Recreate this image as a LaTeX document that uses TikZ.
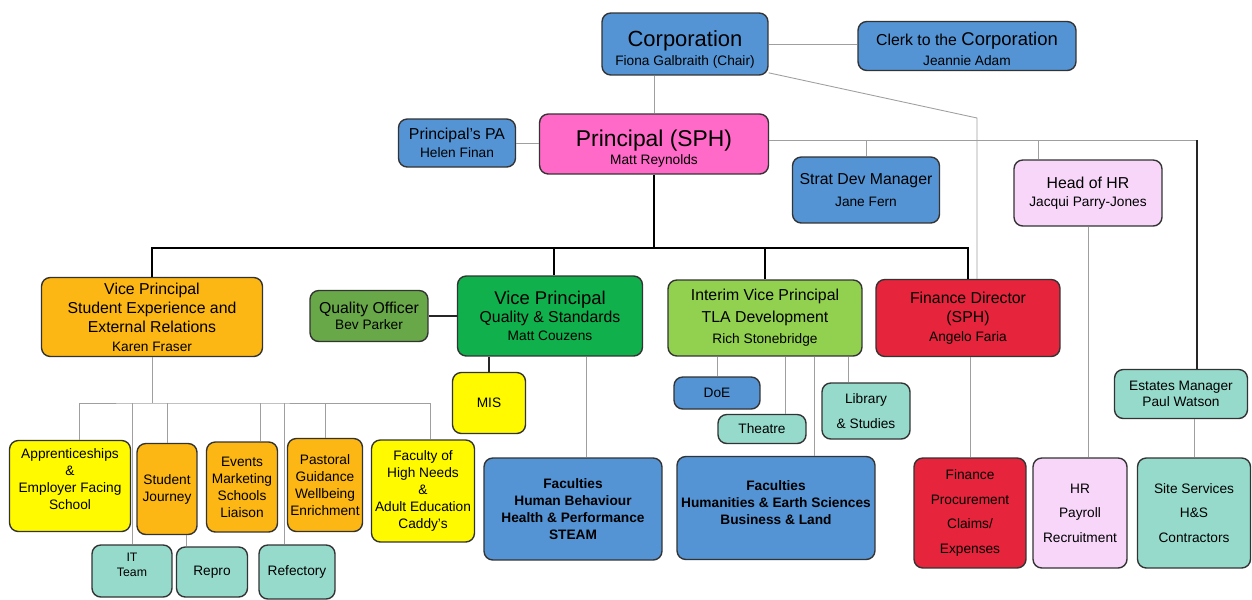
\documentclass[tikz,border=0pt]{standalone}
\usepackage{fontspec}
\setmainfont{Liberation Sans}

\definecolor{cblue}{RGB}{84,148,212}
\definecolor{cpink}{RGB}{255,105,200}
\definecolor{clav}{RGB}{247,214,250}
\definecolor{corange}{RGB}{252,183,20}
\definecolor{cyellow}{RGB}{255,250,0}
\definecolor{cteal}{RGB}{150,218,204}
\definecolor{cgreen}{RGB}{16,176,76}
\definecolor{colive}{RGB}{104,168,72}
\definecolor{clime}{RGB}{146,208,80}
\definecolor{cred}{RGB}{230,36,60}

\newcommand{\ttl}{\fontsize{12.5}{15}\selectfont}
\newcommand{\hdr}{\fontsize{9}{10.8}\selectfont}
\newcommand{\nm}{\fontsize{7.8}{9.4}\selectfont}
\newcommand{\lst}{\fontsize{7.8}{9.7}\selectfont}
\newcommand{\wide}{\fontsize{7.8}{14}\selectfont}

\begin{document}
\begin{tikzpicture}[x=0.02cm, y=-0.02cm, %org chart
    box/.style={draw=black!80, line width=0.8pt, rounded corners=5pt, align=center, inner sep=1pt},
    conn/.style={gray!75, line width=0.5pt},
    bus/.style={black, line width=1.4pt},
    link/.style={black!85, line width=0.9pt}]
            \useasboundingbox (0,0) rectangle (1252,599);

            \node[box, fill=cblue, minimum width=3.32cm, minimum height=1.24cm, font=\nm] (corp) at (685,44) {{\ttl Corporation}\\[1.5pt]Fiona Galbraith (Chair)\\[-14pt]\mbox{}};
            \node[box, fill=cblue, minimum width=4.36cm, minimum height=0.98cm, font=\nm] (clerk) at (967,46) {{\fontsize{9}{11}\selectfont Clerk to the \fontsize{10.5}{12}\selectfont Corporation}\\[2pt]Jeannie Adam\\[-12.8pt]\mbox{}};
            \node[box, fill=cblue, minimum width=2.34cm, minimum height=0.96cm, font=\nm] (pa) at (457,143) {{\hdr Principal's PA}\\[1pt]Helen Finan};
            \node[box, fill=cpink, minimum width=4.58cm, minimum height=1.2cm, font=\nm] (prin) at (654,144) {{\fontsize{13}{15}\selectfont Principal (SPH)}\\[1pt]Matt Reynolds\\[-12.8pt]\mbox{}};
            \node[box, fill=cblue, minimum width=2.94cm, minimum height=1.32cm, font=\nm] (sdm) at (866,190) {{\hdr Strat Dev Manager}\\[3pt]Jane Fern};
            \node[box, fill=clav, minimum width=2.96cm, minimum height=1.32cm, font=\nm] (hhr) at (1088,193) {{\hdr Head of HR}\\[1pt]Jacqui Parry-Jones};

            \node[box, fill=corange, minimum width=4.42cm, minimum height=1.58cm, font=\hdr] (vpse) at (152,317) {Vice Principal\\Student Experience and\\External Relations\\{\nm Karen Fraser}};
            \node[box, fill=colive, minimum width=2.36cm, minimum height=1.02cm, font=\nm] (qo) at (369,316) {{\hdr Quality Officer}\\Bev Parker};
            \node[box, fill=cgreen, minimum width=3.7cm, minimum height=1.6cm, font=\nm] (vpqs) at (550,316) {{\fontsize{10.5}{12.6}\selectfont Vice Principal}\\[1pt]{\hdr Quality \& Standards}\\[1pt]Matt Couzens};
            \node[box, fill=clime, minimum width=3.88cm, minimum height=1.52cm, font=\hdr] (ivp) at (765,318) {Interim Vice Principal\\[1.5pt]TLA Development\\[1.5pt]{\nm Rich Stonebridge}};
            \node[box, fill=cred, minimum width=3.68cm, minimum height=1.54cm, font=\hdr] (fd) at (968,318) {Finance Director\\(SPH)\\{\nm Angelo Faria}};
            \node[box, fill=cteal, minimum width=2.66cm, minimum height=0.98cm, font=\nm] (est) at (1181,394) {Estates Manager\\Paul Watson};

            \node[box, fill=cyellow, minimum width=1.46cm, minimum height=1.22cm, font=\nm] (mis) at (489,403) {MIS};
            \node[box, fill=cblue, minimum width=1.72cm, minimum height=0.64cm, font=\nm] (doe) at (717,393) {DoE};
            \node[box, fill=cteal, minimum width=1.76cm, minimum height=0.58cm, font=\nm] (thea) at (762,429) {Theatre};
            \node[box, fill=cteal, minimum width=1.76cm, minimum height=1.12cm, font=\wide] (lib) at (866,411) {Library\\\& Studies};

            \node[box, fill=cyellow, minimum width=2.42cm, minimum height=1.82cm, font=\lst] (appr) at (70,486) {Apprenticeships\\\&\\Employer Facing\\School\\[-1.7pt]\mbox{}};
            \node[box, fill=corange, minimum width=1.2cm, minimum height=1.82cm, font=\lst] (sj) at (167,489) {Student\\Journey};
            \node[box, fill=corange, minimum width=1.42cm, minimum height=1.8cm, font=\lst] (evt) at (242,487) {Events\\Marketing\\Schools\\Liaison};
            \node[box, fill=corange, minimum width=1.5cm, minimum height=1.86cm, font=\lst] (past) at (325,485) {Pastoral\\Guidance\\Wellbeing\\Enrichment};
            \node[box, fill=cyellow, minimum width=2.06cm, minimum height=2.04cm, font=\lst] (fhn) at (423,491) {Faculty of\\High Needs\\\&\\Adult Education\\Caddy's};
            \node[box, fill=cteal, minimum width=1.6cm, minimum height=1.04cm, font=\fontsize{7}{8.8}\selectfont] (it) at (132,571) {IT\\Team\\[-2pt]\mbox{}};
            \node[box, fill=cteal, minimum width=1.42cm, minimum height=1.0cm, font=\nm] (repro) at (212,572) {Repro};
            \node[box, fill=cteal, minimum width=1.52cm, minimum height=1.08cm, font=\nm] (refe) at (297,572) {Refectory};

            \node[box, fill=cblue, minimum width=3.56cm, minimum height=2.04cm, font=\lst\bfseries] (fhb) at (573,509) {Faculties\\Human Behaviour\\Health \& Performance\\STEAM};
            \node[box, fill=cblue, minimum width=3.96cm, minimum height=2.06cm, font=\lst\bfseries] (fhu) at (776,508) {Faculties\\Humanities \& Earth Sciences\\Business \& Land\\[-3pt]\mbox{}};
            \node[box, fill=cred, minimum width=2.24cm, minimum height=2.2cm, font=\wide] (finb) at (970,513) {Finance\\Procurement\\Claims/\\Expenses};
            \node[box, fill=clav, minimum width=1.88cm, minimum height=2.2cm, font=\wide] (hrp) at (1080,513) {HR\\Payroll\\Recruitment};
            \node[box, fill=cteal, minimum width=2.26cm, minimum height=2.2cm, font=\wide] (site) at (1194,513) {Site Services\\H\&S\\Contractors};

            % top links
            \coordinate (fdbend) at (977,118);
            \coordinate (ptap) at ([yshift=0.08cm]prin.east);
            \coordinate (esttap) at ([xshift=0.32cm]est.north);
            \coordinate (bus) at (654,248);
            \draw[conn] (corp.east) -- (corp.east -| clerk.west);
            \draw[conn] (prin.north) -- (prin.north |- corp.south);
            \draw[conn] (corp.-19) -- (fdbend) -- (fdbend |- fd.north);
            \draw[conn] (pa.east) -- (pa.east -| prin.west);
            \draw[conn] (ptap) -- (ptap -| esttap);
            \draw[conn] (sdm.north) -- (sdm.north |- ptap);
            \draw[conn] ([xshift=-1.0cm]hhr.north) -- ([xshift=-1.0cm]hhr.north |- ptap);
            \draw[link] (esttap) -- (esttap |- ptap);

            % principal bus
            \draw[bus] (prin.south) -- (bus);
            \draw[bus] (vpse.north) |- (bus) -| (fd.north);
            \draw[bus] ([xshift=0.08cm]vpqs.north) -- ([xshift=0.08cm]vpqs.north |- bus);
            \draw[bus] (ivp.north) -- (ivp.north |- bus);

            % second level
            \draw[link] (qo.east) -- (qo.east -| vpqs.west);
            \draw[link] (mis.north) -- (mis.north |- vpqs.south);
            \draw[conn] ([xshift=0.26cm]fhb.north) -- ([xshift=0.26cm]fhb.north |- vpqs.south);
            \draw[conn] (doe.north) -- (doe.north |- ivp.south);
            \draw[conn] ([xshift=0.46cm]thea.north) -- ([xshift=0.46cm]thea.north |- ivp.south);
            \draw[conn] ([xshift=0.76cm]fhu.north) -- ([xshift=0.76cm]fhu.north |- ivp.south);
            \draw[conn] ([xshift=-0.36cm]lib.north) -- ([xshift=-0.36cm]lib.north |- ivp.south);
            \draw[conn] (finb.north) -- (finb.north |- fd.south);
            \draw[conn] (hhr.south) -- (hhr.south |- hrp.north);
            \draw[conn] (site.north) -- (site.north |- est.south);

            % student experience
            \coordinate (sebus) at (152,403);
            \draw[conn] (vpse.south) -- (sebus);
            \draw[conn] ([xshift=0.18cm]appr.north) |- (sebus) -| ([xshift=0.14cm]fhn.north);
            \draw[conn] (it.north) -- (it.north |- sebus);
            \draw[conn] (sj.north) -- (sj.north |- sebus);
            \draw[conn] ([xshift=0.36cm]evt.north) -- ([xshift=0.36cm]evt.north |- sebus);
            \draw[conn] ([xshift=-0.26cm]refe.north) -- ([xshift=-0.26cm]refe.north |- sebus);
            \draw[conn] (past.north) -- (past.north |- sebus);
            \draw[conn] ([xshift=-0.52cm]repro.north) -- ([xshift=-0.52cm]repro.north |- sj.south);
        \end{tikzpicture}
\end{document}
